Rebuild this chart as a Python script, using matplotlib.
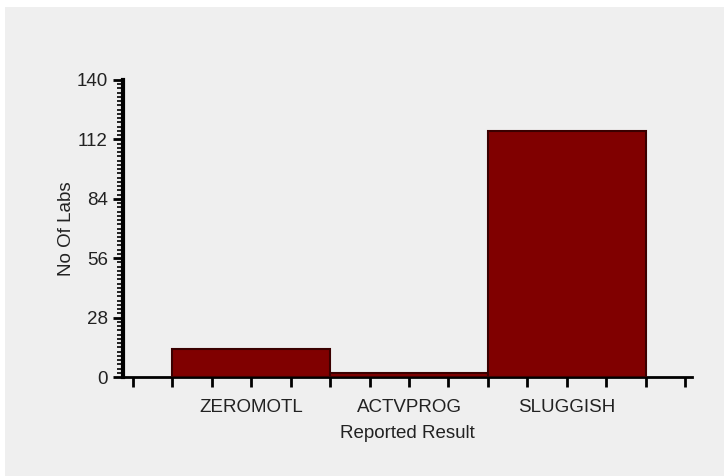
import matplotlib
matplotlib.use("Agg")
import matplotlib.pyplot as plt
from matplotlib.patches import Rectangle
import numpy as np

categories = ["ZEROMOTL", "ACTVPROG", "SLUGGISH"]
labs = [13, 2, 116]
y_ticks = [0, 28, 56, 84, 112, 140]

plt.rcParams['font.family'] = ['Liberation Sans', 'DejaVu Sans']

fig = plt.figure(figsize=(7.24, 4.76), dpi=100, facecolor="#efefef")
# white margin on the left and top of the grey panel
fig.add_artist(Rectangle((0, 0), 5 / 724, 1, transform=fig.transFigure,
                         facecolor="white", edgecolor="none", zorder=-5))
fig.add_artist(Rectangle((0, 1 - 7 / 476), 1, 7 / 476, transform=fig.transFigure,
                         facecolor="white", edgecolor="none", zorder=-5))

ax = fig.add_axes([123 / 724, 99 / 476, 569 / 724, 297 / 476])
ax.set_facecolor("#efefef")

x = np.arange(len(categories))
ax.bar(x, labs, width=1.0, color="#800000", edgecolor="#3a0000", linewidth=1.5, zorder=3)

ax.set_xlim(-0.813, 2.794)
ax.set_ylim(0, 140)

ax.set_yticks(y_ticks)
ax.set_yticks(np.arange(0, 141, 2), minor=True)
ax.set_xticks(x)
ax.set_xticklabels(categories)
ax.set_xticks(np.arange(-0.75, 2.76, 0.25), minor=True)

for s in ["top", "right"]:
    ax.spines[s].set_visible(False)
ax.spines["left"].set_linewidth(3)
ax.spines["bottom"].set_linewidth(2)

txt = "#222222"
ax.tick_params(axis="y", which="major", length=7, width=2, direction="out",
               labelsize=13.5, colors="black", labelcolor=txt, pad=4)
ax.tick_params(axis="y", which="minor", length=4, width=1.2, direction="out")
ax.tick_params(axis="x", which="major", length=7, width=2, direction="out",
               labelsize=13.5, labelcolor=txt, pad=9)
ax.tick_params(axis="x", which="minor", length=7, width=2, direction="out")

ax.set_ylabel("No Of Labs", fontsize=13.5, color=txt, labelpad=1)
ax.set_xlabel("Reported Result", fontsize=13.5, color=txt, labelpad=6.5)

fig.savefig("out.png", dpi=100, facecolor=fig.get_facecolor())
